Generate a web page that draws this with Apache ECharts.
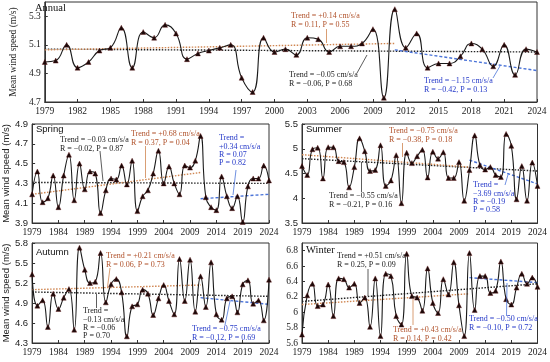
<!DOCTYPE html>
<html><head><meta charset="utf-8">
<script src="https://cdn.jsdelivr.net/npm/echarts@6/dist/echarts.min.js"></script>
<style>html,body{margin:0;padding:0;background:#fff}#c{width:550px;height:362px}</style>
</head><body><div id="c"></div>
<script>
const years = [1979,1980,1981,1982,1983,1984,1985,1986,1987,1988,1989,1990,1991,1992,1993,1994,1995,1996,1997,1998,1999,2000,2001,2002,2003,2004,2005,2006,2007,2008,2009,2010,2011,2012,2013,2014,2015,2016,2017,2018,2019,2020,2021,2022,2023,2024];
const annual = [4.98,4.99,5.10,4.94,4.98,5.06,5.08,5.22,4.94,5.19, 5.15,5.24,5.18,5.00,5.04,5.06,5.08,5.10,4.87,4.77, 5.15,5.05,5.07,5.03,5.15,5.14,5.05,5.09,5.09,5.11, 5.21,4.73,5.35,5.08,5.18,4.94,4.97,4.97,5.02,5.11, 5.07,4.95,5.10,4.89,5.07,5.05];
const spring = [4.19,4.42,4.11,4.15,4.38,4.06,4.38,4.59,4.13,4.50, 4.24,4.42,4.40,4.00,4.23,4.35,4.34,4.48,4.29,4.53, 4.02,4.17,4.23,4.40,4.63,4.30,4.47,4.30,4.19,4.48, 4.46,4.53,4.78,4.16,4.06,4.03,4.37,4.17,4.05,4.17, 3.91,4.27,4.35,4.35,4.48,4.33];
const summer = [4.65,4.47,4.99,5.02,4.40,5.03,5.03,4.75,4.73,4.22, 4.63,5.21,4.95,4.55,4.57,5.07,4.25,4.36,4.87,3.90, 4.92,4.71,4.85,4.98,4.42,4.94,4.80,4.93,4.41,4.41, 4.73,3.95,4.57,5.27,4.67,4.58,4.63,4.47,4.43,5.30, 5.06,3.98,4.65,3.95,4.72,4.25];
const autumn = [5.33,4.86,4.94,4.54,5.04,4.81,4.98,5.11,4.50,5.73, 5.40,5.20,5.22,5.65,4.91,5.18,5.26,5.06,4.40,4.85, 4.88,5.10,5.04,4.72,4.97,5.17,4.93,4.73,5.56,4.93, 5.55,4.77,5.30,4.84,5.51,4.73,4.65,4.97,5.00,4.76, 5.18,5.24,4.89,4.94,4.64,5.25];
const winter = [5.71,6.22,6.37,6.08,6.10,6.36,5.95,6.44,6.43,6.32, 6.37,6.12,6.19,5.81,6.44,5.69,6.50,6.47,5.95,5.84, 6.76,6.21,6.19,6.02,6.57,6.12,5.99,6.43,6.23,6.65, 6.09,5.69,6.77,6.03,6.47,6.47,6.25,6.28,6.66,6.17, 6.10,6.32,6.50,6.37,6.45,6.33];

// trend line end values: [start, end]
const trendAllYears = [1979, 2024];
const trendPreYears = [1979, 2011];
const trendPostYears = [2011, 2024];
const annualAll = [5.07, 5.05], annualPre = [5.065, 5.11], annualPost = [5.065, 4.92];
const springAll = [4.31, 4.30], springPre = [4.19, 4.41], springPost = [4.145, 4.19];
const summerAll = [4.80, 4.55], summerPre = [4.88, 4.63], summerPost = [4.77, 4.29];
const autumnAll = [5.065, 5.00], autumnPre = [5.10, 5.17], autumnPost = [4.98, 4.88];
const winterAll = [6.14, 6.37], winterPre = [6.10, 6.24], winterPost = [6.45, 6.385];

const panelNames = ['Annual', 'Spring', 'Summer', 'Autumn', 'Winter'];
const yMin = [4.7, 3.9, 3.5, 4.3, 5.6];
const yMax = [5.4, 4.9, 5.5, 5.8, 6.9];
const yInterval = [0.2, 0.2, 0.5, 0.3, 0.2];
const xInterval = [3, 5, 5, 5, 5];

const SERIF = '"Liberation Serif","Times New Roman",serif';
const SANS = '"Liberation Sans",Arial,sans-serif';
const ORANGE_LINE = '#cf8550', ORANGE_TXT = '#b0512a';
const BLUE_LINE = '#4a73d8', BLUE_TXT = '#2438c8';
const BLACK = '#1a1a1a';

const grids = [
  {left: 32, top: 2, width: 505, height: 100},
  {left: 32, top: 124, width: 237, height: 99},
  {left: 302, top: 124, width: 236, height: 99},
  {left: 32, top: 243, width: 237, height: 100},
  {left: 302, top: 243, width: 236, height: 100}
].map(g => Object.assign({show: true, borderColor: '#333', borderWidth: 1, backgroundColor: 'transparent'}, g));

const yFonts = [SERIF, SANS, SANS, SANS, SERIF];
const xAxes = grids.map((g, i) => ({
  type: 'value', gridIndex: i, min: 1979, max: 2024, interval: xInterval[i],
  axisLine: {show: true, lineStyle: {color: '#333'}},
  axisTick: {show: true, inside: true, length: 3, lineStyle: {color: '#333'}},
  splitLine: {show: false},
  axisLabel: {fontFamily: SERIF, fontSize: 9.5, color: '#222', margin: 4, formatter: v => String(v)}
}));
const yAxes = grids.map((g, i) => ({
  type: 'value', gridIndex: i, min: yMin[i], max: yMax[i], interval: yInterval[i],
  name: (i === 0 || i === 1 || i === 3) ? 'Mean wind speed (m/s)' : '',
  nameLocation: 'middle', nameGap: 19, nameRotate: 90,
  nameTextStyle: {fontFamily: i === 0 ? SERIF : SANS, fontSize: 9.5, color: '#222'},
  axisLine: {show: true, lineStyle: {color: '#333'}},
  axisTick: {show: true, inside: true, length: 3, lineStyle: {color: '#333'}},
  splitLine: {show: false},
  axisLabel: {fontFamily: yFonts[i], fontSize: 9.5, color: '#222', margin: 4, showMaxLabel: i === 0 || i === 4 ? false : true,
    formatter: v => {
      const r = Math.round(v * 100) / 100;
      if (i === 2 || i === 4) return String(r);
      return r.toFixed(1);
    }}
}));

const values = [annual, spring, summer, autumn, winter];
const allT = [annualAll, springAll, summerAll, autumnAll, winterAll];
const preT = [annualPre, springPre, summerPre, autumnPre, winterPre];
const postT = [annualPost, springPost, summerPost, autumnPost, winterPost];

const series = [];
values.forEach((vals, i) => {
  series.push({
    type: 'line', xAxisIndex: i, yAxisIndex: i, smooth: 0.5,
    data: years.map((y, k) => [y, vals[k]]),
    symbol: 'triangle', symbolSize: 5, showSymbol: true,
    lineStyle: {color: BLACK, width: 1.1},
    itemStyle: {color: '#1a0a0a', borderColor: '#5a1010', borderWidth: 0.4},
    z: 5, animation: false
  });
  series.push({type: 'line', xAxisIndex: i, yAxisIndex: i, symbol: 'none', animation: false,
    data: trendAllYears.map((y, k) => [y, allT[i][k]]),
    lineStyle: {color: '#222', width: 1.4, type: [1.5, 1.5]}, z: 3});
  series.push({type: 'line', xAxisIndex: i, yAxisIndex: i, symbol: 'none', animation: false,
    data: trendPreYears.map((y, k) => [y, preT[i][k]]),
    lineStyle: {color: ORANGE_LINE, width: 1.4, type: [1.5, 1.5]}, z: 3});
  series.push({type: 'line', xAxisIndex: i, yAxisIndex: i, symbol: 'none', animation: false,
    data: trendPostYears.map((y, k) => [y, postT[i][k]]),
    lineStyle: {color: BLUE_LINE, width: 1.4, type: [3, 2]}, z: 3});
});

function txt(x, y, lines, color, font, size) {
  return {type: 'text', x: x, y: y, z: 50, style: {text: lines.join('\n'), fill: color, font: (size || 8) + 'px ' + (font || SERIF), lineHeight: 8.4, textVerticalAlign: 'top'}};
}
function ln(x1, y1, x2, y2, color) {
  return {type: 'line', z: 50, shape: {x1: x1, y1: y1, x2: x2, y2: y2}, style: {stroke: color, lineWidth: 0.8}};
}

const graphics = [
  // panel titles
  txt(35, 4, ['Annual'], '#111', SERIF, 10.5),
  txt(36, 125, ['Spring'], '#111', SANS, 9.5),
  txt(306, 125, ['Summer'], '#111', SANS, 9.5),
  txt(36, 248, ['Autumn'], '#111', SANS, 9.5),
  txt(306, 246, ['Winter'], '#111', SERIF, 10.5),
  // Annual
  txt(291, 12, ['Trend = +0.14 cm/s/a', 'R = 0.11, P = 0.55'], ORANGE_TXT),
  ln(326.5, 29, 326.5, 43, ORANGE_LINE),
  txt(289, 71, ['Trend = \u22120.05 cm/s/a', 'R = \u22120.06, P = 0.68'], '#1a1a1a'),
  ln(357, 73, 367, 55, '#333'),
  txt(424, 77, ['Trend = \u22121.15 cm/s/a', 'R = \u22120.42, P = 0.13'], BLUE_TXT),
  ln(493, 78, 500, 66, BLUE_LINE),
  // Spring
  txt(60, 136, ['Trend = \u22120.03 cm/s/a', 'R = \u22120.02, P = 0.87'], '#1a1a1a'),
  ln(100, 151, 103, 181, '#333'),
  txt(131, 130, ['Trend = +0.68 cm/s/a', 'R = 0.37, P = 0.04'], ORANGE_TXT),
  ln(145.5, 146, 145.5, 178, ORANGE_LINE),
  txt(219, 134, ['Trend =', '+0.34 cm/s/a', 'R = 0.07', 'P = 0.82'], BLUE_TXT),
  ln(236, 170, 233, 195, BLUE_LINE),
  // Summer
  txt(389, 127, ['Trend = \u22120.75 cm/s/a', 'R = \u22120.38, P = 0.18'], ORANGE_TXT),
  ln(402.5, 143, 402.5, 157, ORANGE_LINE),
  txt(329, 192, ['Trend = \u22120.55 cm/s/a', 'R = \u22120.21, P = 0.16'], '#1a1a1a'),
  ln(361.5, 162, 361.5, 192, '#333'),
  txt(473, 181, ['Trend =', '\u22123.69 cm/s/a', 'R = \u22120.19', 'P = 0.58'], BLUE_TXT),
  ln(505, 185, 508.5, 173, BLUE_LINE),
  // Autumn
  txt(106, 252, ['Trend = +0.21 cm/s/a', 'R = 0.06, P = 0.73'], ORANGE_TXT),
  ln(110, 268, 107.5, 287, ORANGE_LINE),
  txt(83, 307, ['Trend =', '\u22120.13 cm/s/a', 'R = \u22120.06', 'P = 0.70'], '#1a1a1a'),
  ln(96.5, 294, 96.5, 308, '#333'),
  txt(192, 325, ['Trend = \u22120.75 cm/s/a', 'R = \u22120.12, P = 0.69'], BLUE_TXT),
  ln(225, 325, 230, 301, BLUE_LINE),
  // Winter
  txt(337, 252, ['Trend = +0.51 cm/s/a', 'R = 0.25, P = 0.09'], '#1a1a1a'),
  ln(368, 269, 368, 296, '#333'),
  txt(393, 326, ['Trend = +0.43 cm/s/a', 'R = 0.14, P = 0.42'], ORANGE_TXT),
  ln(413, 325, 413, 299, ORANGE_LINE),
  txt(469, 315, ['Trend = \u22120.50 cm/s/a', 'R = \u22120.10, P = 0.72'], BLUE_TXT),
  ln(506.5, 316, 507, 283, BLUE_LINE)
];

const chart = echarts.init(document.getElementById('c'), null, {renderer: 'canvas'});
chart.setOption({
  animation: false,
  backgroundColor: '#fff',
  grid: grids, xAxis: xAxes, yAxis: yAxes, series: series,
  graphic: graphics
});
</script>
</body></html>
